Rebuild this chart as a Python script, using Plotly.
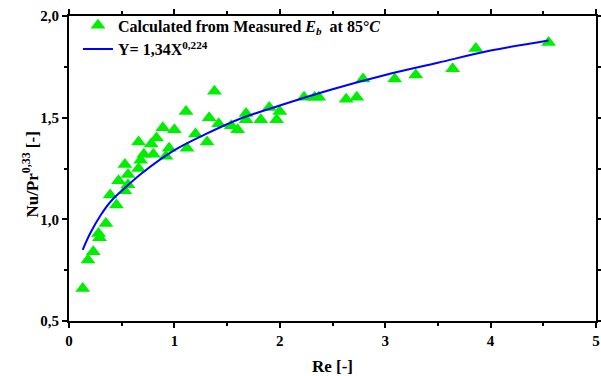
import plotly.graph_objects as go

# Measured points (Re [-], Nu/Pr^0.33 [-])
re_meas = [0.13, 0.18, 0.23, 0.28, 0.29, 0.35, 0.39, 0.45, 0.47, 0.53, 0.53, 0.56,
           0.56, 0.66, 0.66, 0.68, 0.71, 0.78, 0.80, 0.83, 0.89, 0.92, 0.95, 1.00,
           1.11, 1.12, 1.20, 1.31, 1.33, 1.38, 1.42, 1.54, 1.60, 1.68, 1.68, 1.82,
           1.90, 1.97, 2.00, 2.23, 2.33, 2.37, 2.63, 2.73, 2.79, 3.09, 3.29, 3.64,
           3.86, 4.55]
nu_meas = [0.66, 0.80, 0.84, 0.93, 0.91, 0.98, 1.12, 1.07, 1.19, 1.27, 1.14, 1.22,
           1.17, 1.38, 1.25, 1.29, 1.32, 1.37, 1.32, 1.40, 1.45, 1.31, 1.35, 1.44,
           1.53, 1.35, 1.42, 1.38, 1.50, 1.63, 1.47, 1.46, 1.44, 1.52, 1.49, 1.49,
           1.55, 1.49, 1.53, 1.60, 1.60, 1.60, 1.59, 1.60, 1.69, 1.69, 1.71, 1.74,
           1.84, 1.87]

# Fit curve Y = 1,34 X^0,224
re_fit = [0.13, 0.2, 0.3, 0.4, 0.5, 0.7, 1.0, 1.3, 1.6, 2.0, 2.5, 3.0, 3.5, 4.0, 4.55]
nu_fit = [0.85, 0.93, 1.02, 1.09, 1.14, 1.23, 1.34, 1.42, 1.49, 1.56, 1.64, 1.71,
          1.77, 1.83, 1.88]

x_ticks = [0, 1, 2, 3, 4, 5]
y_ticks = [0.5, 1.0, 1.5, 2.0]

font_family = "Liberation Serif"

fig = go.Figure()
fig.add_trace(go.Scatter(
    x=re_meas, y=nu_meas, mode="markers",
    marker=dict(symbol="triangle-up", size=13, color="#00ee00"),
    name="<b>Calculated from Measured <i>E</i><sub><i>b</i></sub>  at 85°<i>C</i></b>",
))
fig.add_trace(go.Scatter(
    x=re_fit, y=nu_fit, mode="lines", line=dict(color="#0000ff", width=2, shape="spline"),
    name="<b>Y= 1,34X<sup>0,224</sup></b>",
))

axis_common = dict(
    showline=True, linecolor="black", linewidth=2, mirror="ticks",
    ticks="outside", ticklen=5, tickwidth=1.5, tickcolor="black",
    showgrid=False, zeroline=False, automargin=False,
    ticklabeloverflow="allow",
    tickfont=dict(family=font_family, size=15, color="black", weight="bold"),
)

fig.update_xaxes(
    range=[0, 5], tickvals=x_ticks, ticktext=[str(v) for v in x_ticks],
    minor=dict(dtick=0.5, ticks="outside", ticklen=3, tickcolor="black"),
    title=dict(text="<b>Re [-]</b>", font=dict(family=font_family, size=17, color="black")),
    **axis_common,
)
fig.update_yaxes(
    range=[0.5, 2.0], tickvals=y_ticks,
    ticktext=[f"{v:.1f}".replace(".", ",") for v in y_ticks],
    minor=dict(dtick=0.25, ticks="outside", ticklen=3, tickcolor="black"),
    **axis_common,
)

fig.add_annotation(
    text="<b>Nu/Pr<sup>0,33</sup> [-]</b>", textangle=-90,
    xref="paper", yref="paper", x=-0.074, y=0.48,
    xanchor="center", yanchor="middle", showarrow=False,
    font=dict(family=font_family, size=17, color="black"),
)

fig.update_layout(
    width=601, height=376,
    margin=dict(l=69, r=5, t=16, b=55),
    paper_bgcolor="white", plot_bgcolor="white",
    showlegend=True,
    legend=dict(x=0.017, y=1.025, xanchor="left", yanchor="top",
                bgcolor="rgba(0,0,0,0)",
                font=dict(family=font_family, size=16, color="black"),
                tracegroupgap=0, itemwidth=30),
)

fig.write_html("out.html")
